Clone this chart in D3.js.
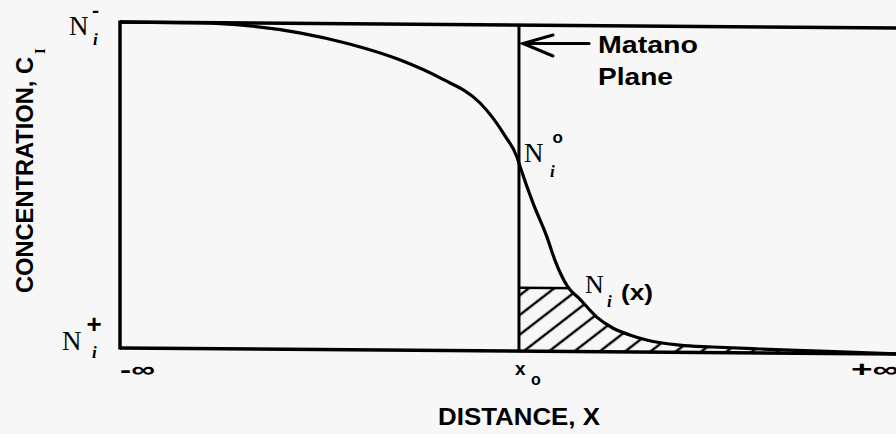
<!DOCTYPE html>
<html>
<head>
<meta charset="utf-8">
<script src="https://cdn.jsdelivr.net/npm/d3@7"></script>
<style>
  html, body { margin: 0; padding: 0; background: #f7f7f7; overflow: hidden; }
  svg { display: block; }
</style>
</head>
<body>
<svg id="chart" width="896" height="434"></svg>
<script>
// Concentration profile across a diffusion couple.
// Distance in arbitrary units with the Matano plane at 0;
// concentration normalised so that N_i^+ = 0 and N_i^- = 1.
const distance = [-4.00, -3.20, -2.70, -2.20, -1.70, -1.19, -0.79, -0.39, -0.26, -0.14,
                  -0.02, 0.01, 0.14, 0.28, 0.36, 0.49, 0.61, 0.78, 0.94, 1.11,
                  1.28, 1.61, 1.94, 2.42, 3.02, 3.78];
const concentration = [1.000, 0.999, 0.991, 0.971, 0.938, 0.890, 0.836, 0.760, 0.714, 0.660,
                       0.595, 0.567, 0.455, 0.351, 0.280, 0.198, 0.161, 0.106, 0.073, 0.052,
                       0.037, 0.022, 0.017, 0.012, 0.007, 0.000];
const matanoPlane = 0;      // x_o
const hatchLevel = 0.194;   // N_i(x) level that caps the shaded area
const distanceDomain = [-4.00, 3.78];
const concentrationDomain = [0, 1];

const svg = d3.select("#chart");
const W = 896, H = 434;
const margin = { left: 120, right: 0, top: 22, bottom: 86 };

const x = d3.scaleLinear().domain(distanceDomain).range([margin.left, W - margin.right]);
const y = d3.scaleLinear().domain(concentrationDomain).range([H - margin.bottom, margin.top]);

const pts = distance.map((d, i) => ({ d, c: concentration[i] }));

const ink = "#000";
const sans = "'Liberation Sans', Arial, sans-serif";
const serif = "'Liberation Serif', 'Times New Roman', serif";

const defs = svg.append("defs");

// diagonal hatching
const pat = defs.append("pattern")
  .attr("id", "hatch")
  .attr("patternUnits", "userSpaceOnUse")
  .attr("width", 15.5).attr("height", 15.5)
  .attr("patternTransform", "rotate(52)");
pat.append("line")
  .attr("x1", 7.75).attr("y1", -2).attr("x2", 7.75).attr("y2", 17.5)
  .attr("stroke", ink).attr("stroke-width", 2.4);

const area = d3.area()
  .x(p => x(p.d))
  .y0(y(0))
  .y1(p => y(p.c))
  .curve(d3.curveMonotoneX);

const line = d3.line()
  .x(p => x(p.d))
  .y(p => y(p.c))
  .curve(d3.curveMonotoneX);

// region right of the Matano plane and below the N_i(x) level
defs.append("clipPath").attr("id", "belowLevel")
  .append("rect")
  .attr("x", x(matanoPlane)).attr("y", y(hatchLevel))
  .attr("width", x(distanceDomain[1]) - x(matanoPlane) + 10)
  .attr("height", y(0) - y(hatchLevel));

// region under the profile
defs.append("clipPath").attr("id", "underCurve")
  .append("path").attr("d", area(pts));

// plot body, with a slight slant of the sheet
const k = 0.00768;
const g = svg.append("g")
  .attr("transform", `translate(0,${-margin.left * k}) skewY(${Math.atan(k) * 180 / Math.PI})`);

// shaded area
g.append("path")
  .attr("d", area(pts))
  .attr("fill", "url(#hatch)")
  .attr("clip-path", "url(#belowLevel)");

// horizontal cap of the shaded area, ending on the curve
g.append("line")
  .attr("x1", x(matanoPlane)).attr("x2", x(distanceDomain[1]))
  .attr("y1", y(hatchLevel)).attr("y2", y(hatchLevel))
  .attr("stroke", ink).attr("stroke-width", 2.4)
  .attr("clip-path", "url(#underCurve)");

// frame: top, left, bottom
const frame = [
  [[x(distanceDomain[0]), y(1)], [x(distanceDomain[1]), y(1)]],
  [[x(distanceDomain[0]), y(1) - 1.5], [x(distanceDomain[0]), y(0) + 1.5]],
  [[x(distanceDomain[0]), y(0)], [x(distanceDomain[1]), y(0)]]
];
g.selectAll("line.frame").data(frame).join("line")
  .attr("class", "frame")
  .attr("x1", s => s[0][0]).attr("y1", s => s[0][1])
  .attr("x2", s => s[1][0]).attr("y2", s => s[1][1])
  .attr("stroke", ink).attr("stroke-width", 3.5);

// Matano plane
g.append("line")
  .attr("x1", x(matanoPlane)).attr("x2", x(matanoPlane))
  .attr("y1", y(1)).attr("y2", y(0))
  .attr("stroke", ink).attr("stroke-width", 3);

// concentration profile
g.append("path")
  .attr("d", line(pts))
  .attr("fill", "none")
  .attr("stroke", ink).attr("stroke-width", 3.2)
  .attr("stroke-linejoin", "round");

// arrow to the Matano plane
const arrow = svg.append("g")
  .attr("fill", "none").attr("stroke", ink).attr("stroke-width", 3)
  .attr("stroke-linecap", "round");
arrow.append("path").attr("d", `M589,43.5 L${x(matanoPlane) + 4},43.5`);
arrow.append("path").attr("d", `M553,35 L${x(matanoPlane) + 4},43.5 L553,56`);

const txt = (sel, o) => {
  const t = sel.append("text")
    .attr("x", o.x).attr("y", o.y)
    .attr("font-family", o.family || sans)
    .attr("font-size", o.size)
    .attr("font-weight", o.weight || "normal")
    .attr("font-style", o.style || "normal")
    .attr("text-anchor", o.anchor || "start")
    .attr("fill", ink)
    .text(o.text);
  if (o.len) t.attr("textLength", o.len).attr("lengthAdjust", "spacingAndGlyphs");
  if (o.transform) t.attr("transform", o.transform);
  return t;
};

const labels = svg.append("g");

// Matano Plane
txt(labels, { x: 598, y: 53, size: 24, weight: "bold", text: "Matano", len: 100 });
txt(labels, { x: 598, y: 85, size: 24, weight: "bold", text: "Plane", len: 75 });

// N_i^- (top)
txt(labels, { x: 69, y: 35, size: 27, family: serif, text: "N" });
txt(labels, { x: 92, y: 17, size: 18, weight: "bold", text: "-", len: 7 });
txt(labels, { x: 93, y: 45, size: 17, family: serif, style: "italic", weight: "bold", text: "i" });

// N_i^+ (bottom)
txt(labels, { x: 62, y: 350, size: 27, family: serif, text: "N" });
txt(labels, { x: 86.5, y: 333, size: 26, weight: "bold", text: "+" });
txt(labels, { x: 92, y: 358, size: 17, family: serif, style: "italic", weight: "bold", text: "i" });

// N_i^o at the Matano plane
txt(labels, { x: 524, y: 162, size: 27, family: serif, text: "N" });
txt(labels, { x: 552.5, y: 143, size: 17, weight: "bold", text: "o" });
txt(labels, { x: 550, y: 177, size: 17, family: serif, style: "italic", weight: "bold", text: "i" });

// N_i(x)
txt(labels, { x: 585, y: 293, size: 26, family: serif, text: "N" });
txt(labels, { x: 607, y: 307, size: 17, family: serif, style: "italic", weight: "bold", text: "i" });
txt(labels, { x: 621, y: 300, size: 22, weight: "bold", text: "(x)", len: 32 });

// distance tick labels
txt(labels, { x: x(distanceDomain[0]), y: 377, size: 22, weight: "bold", text: "-∞", len: 35 });
txt(labels, { x: x(matanoPlane) - 4, y: 375, size: 19, weight: "bold", text: "x" });
txt(labels, { x: x(matanoPlane) + 12, y: 385, size: 16, weight: "bold", text: "o" });
txt(labels, { x: 851, y: 377, size: 22, weight: "bold", text: "+∞", len: 48 });

// axis titles
txt(labels, { x: 438, y: 425, size: 23, weight: "bold", text: "DISTANCE, X", len: 162 });
txt(labels, { x: 0, y: 0, size: 23, weight: "bold", text: "CONCENTRATION, C", len: 236,
              transform: "translate(33,293) rotate(-90)" });
txt(labels, { x: 0, y: 0, size: 15, family: serif, weight: "bold", text: "I",
              transform: "translate(45,54) rotate(-90)" });
</script>
</body>
</html>
